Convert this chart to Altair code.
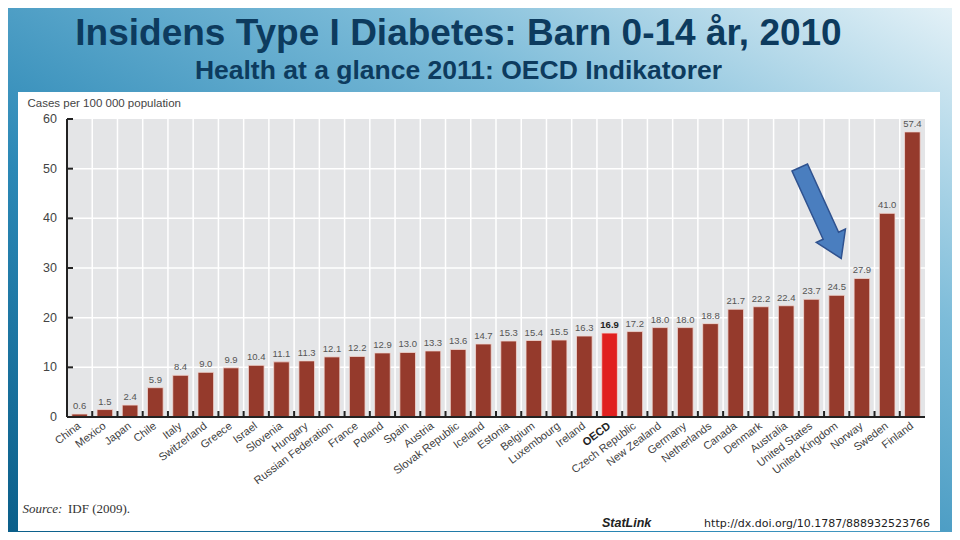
import altair as alt
import pandas as pd

countries = ["China", "Mexico", "Japan", "Chile", "Italy", "Switzerland", "Greece", "Israel",
             "Slovenia", "Hungary", "Russian Federation", "France", "Poland", "Spain", "Austria",
             "Slovak Republic", "Iceland", "Estonia", "Belgium", "Luxembourg", "Ireland", "OECD",
             "Czech Republic", "New Zealand", "Germany", "Netherlands", "Canada", "Denmark",
             "Australia", "United States", "United Kingdom", "Norway", "Sweden", "Finland"]
values = [0.6, 1.5, 2.4, 5.9, 8.4, 9.0, 9.9, 10.4, 11.1, 11.3, 12.1, 12.2, 12.9, 13.0, 13.3,
          13.6, 14.7, 15.3, 15.4, 15.5, 16.3, 16.9, 17.2, 18.0, 18.0, 18.8, 21.7, 22.2, 22.4,
          23.7, 24.5, 27.9, 41.0, 57.4]
y_ticks = [0, 10, 20, 30, 40, 50, 60]
y_grid = [10, 20, 30, 40, 50]

title_text = "Insidens Type I Diabetes: Barn 0-14 år, 2010"
subtitle_text = "Health at a glance 2011: OECD Indikatorer"
y_title_text = "Cases per 100 000 population"
source_label = "Source:"
source_text = "IDF (2009)."
statlink_label = "StatLink"
statlink_url = "http://dx.doi.org/10.1787/888932523766"

W, H = 858, 298
PL, PT, PR, PB = 59, 111, 27, 115
STEP = W / len(countries)

df = pd.DataFrame({"country": countries, "value": values})
one = pd.DataFrame({"a": [0]})
df_yt = pd.DataFrame({"t": y_ticks})
df_yg = pd.DataFrame({"g": y_grid})

yscale = alt.Scale(domain=[0, 60], nice=False, zero=True)
xscale = alt.Scale(paddingInner=0.38, paddingOuter=0.19)
xsort = countries

SANS = "Liberation Sans, Arial, Helvetica, sans-serif"


def X(**kw):
    return alt.X("country:N", sort=xsort, scale=xscale, axis=None, title=None, **kw)


bg = alt.Chart(one).mark_rect(
    fill=alt.LinearGradient(
        gradient="linear", x1=0, y1=1, x2=1, y2=0,
        stops=[alt.GradientStop(offset=0, color="#0b5f8a"),
               alt.GradientStop(offset=0.35, color="#2b88b6"),
               alt.GradientStop(offset=0.7, color="#7dbcd9"),
               alt.GradientStop(offset=1, color="#e3f1f7")])
).encode(x=alt.value(-PL), x2=alt.value(W + PR), y=alt.value(-PT), y2=alt.value(H + PB))

panel = alt.Chart(one).mark_rect(fill="white").encode(
    x=alt.value(-49), x2=alt.value(873), y=alt.value(-27), y2=alt.value(412))

plotbg = alt.Chart(one).mark_rect(fill="#e4e5e7").encode(
    x=alt.value(0), x2=alt.value(W), y=alt.value(0), y2=alt.value(H))

vgrid = alt.Chart(df).mark_rule(color="white", strokeWidth=1.5, xOffset=-STEP / 2).encode(
    x=X(), y=alt.value(0), y2=alt.value(H))

hgrid = alt.Chart(df_yg).mark_rule(color="white", strokeWidth=1.5).encode(
    y=alt.Y("g:Q", scale=yscale, axis=None), x=alt.value(0), x2=alt.value(W))

bars = alt.Chart(df).mark_bar(stroke="#f3d9d4", strokeWidth=0.8).encode(
    x=X(),
    y=alt.Y("value:Q", scale=yscale, axis=None, title=None),
    color=alt.condition(alt.datum.country == "OECD", alt.value("#e0201f"), alt.value("#953a2c")))

xdomain = alt.Chart(one).mark_rule(color="#222222", strokeWidth=2).encode(
    x=alt.value(0), x2=alt.value(W), y=alt.value(H))
ydomain = alt.Chart(one).mark_rule(color="#222222", strokeWidth=2).encode(
    x=alt.value(0), y=alt.value(0), y2=alt.value(H))

xticks = alt.Chart(df).mark_rule(color="#222222", strokeWidth=2, xOffset=-STEP / 2).encode(
    x=X(), y=alt.value(H - 6), y2=alt.value(H))

yticks = alt.Chart(df_yt).mark_rule(color="#222222", strokeWidth=2).encode(
    y=alt.Y("t:Q", scale=yscale, axis=None), x=alt.value(0), x2=alt.value(6))

ylabels = alt.Chart(df_yt).mark_text(align="right", baseline="middle", fontSize=12.5, font=SANS,
                                     color="#444444").encode(
    y=alt.Y("t:Q", scale=yscale, axis=None), x=alt.value(-10), text=alt.Text("t:Q"))

xlabels = alt.Chart(df).transform_filter(alt.datum.country != "OECD").mark_text(
    align="right", baseline="middle", angle=323, fontSize=11, font=SANS, color="#3f3f3f").encode(
    x=X(), y=alt.value(H + 8), text="country:N")
xlabel_oecd = alt.Chart(df).transform_filter(alt.datum.country == "OECD").mark_text(
    align="right", baseline="middle", angle=323, fontSize=11, font=SANS, fontWeight="bold",
    color="#222222").encode(x=X(), y=alt.value(H + 8), text="country:N")

vlabels = alt.Chart(df).transform_filter(alt.datum.country != "OECD").mark_text(
    baseline="alphabetic", dy=-5, fontSize=9.5, font=SANS, color="#555555").encode(
    x=X(), y=alt.Y("value:Q", scale=yscale, axis=None), text=alt.Text("value:Q", format=".1f"))

vlabel_oecd = alt.Chart(df).transform_filter(alt.datum.country == "OECD").mark_text(
    baseline="alphabetic", dy=-5, fontSize=9.5, font=SANS, fontWeight="bold", color="#222222").encode(
    x=X(), y=alt.Y("value:Q", scale=yscale, axis=None), text=alt.Text("value:Q", format=".1f"))


def txt(s, x, y, **kw):
    return alt.Chart(one).mark_text(**kw).encode(
        x=alt.value(x), y=alt.value(y), text=alt.value(s))


title = txt(title_text, 391.5, -74, font=SANS, fontSize=37, fontWeight="bold",
            color="#0d3b5e", align="center", baseline="alphabetic")
subtitle = txt(subtitle_text, 391.5, -40.5, font=SANS, fontSize=26.5, fontWeight="bold",
               color="#0d3b5e", align="center", baseline="alphabetic")
ytitle = txt(y_title_text, -39.5, -12, font=SANS, fontSize=11.5, color="#444444",
             align="left", baseline="alphabetic")
src1 = txt(source_label, -44.5, 393.5, font="Liberation Serif", fontSize=13, fontStyle="italic",
           color="#333333", align="left", baseline="alphabetic")
src2 = txt(source_text, 1, 393.5, font="Liberation Serif", fontSize=13,
           color="#333333", align="left", baseline="alphabetic")
stat1 = txt(statlink_label, 535, 407.5, font=SANS, fontSize=12.5, fontStyle="italic", fontWeight="bold",
            color="#222222", align="left", baseline="alphabetic")
stat2 = txt(statlink_url, 863, 407.5, font="DejaVu Sans", fontSize=11,
            color="#222222", align="right", baseline="alphabetic")

arrow_path = "M -0.17 -1 L 0.17 -1 L 0.17 0.5 L 0.32 0.5 L 0 1 L -0.32 0.5 L -0.17 0.5 Z"
arrow = alt.Chart(one).mark_point(shape=arrow_path, filled=True, fill="#4a7ebf", stroke="#2f528f",
                                  strokeWidth=1.5, opacity=1, size=10000, angle=335.5).encode(
    x=alt.value(753.5), y=alt.value(94))

chart = alt.layer(bg, panel, plotbg, vgrid, hgrid, bars, xdomain, ydomain, xticks, yticks,
                  ylabels, xlabels, xlabel_oecd, vlabels, vlabel_oecd,
                  title, subtitle, ytitle, src1, src2, stat1, stat2, arrow).properties(
    width=W, height=H,
    autosize=alt.AutoSizeParams(type="none"),
    padding={"left": PL, "top": PT, "right": PR, "bottom": PB},
    background="white",
).configure_view(stroke=None)

chart.save("out.html", embed_options={"renderer": "svg", "actions": False})
